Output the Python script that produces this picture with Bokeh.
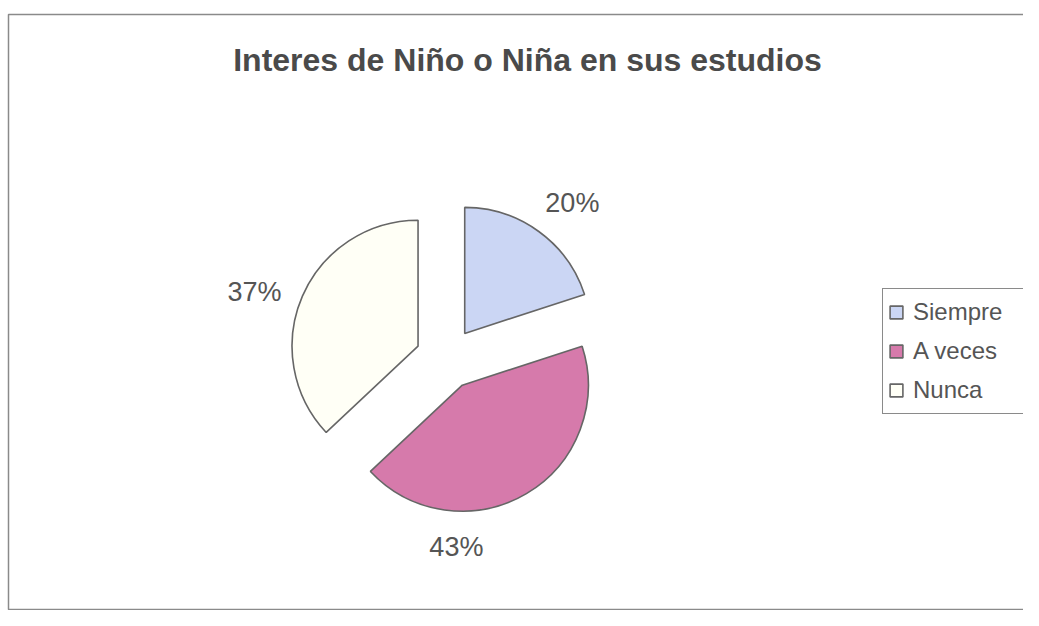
import math
from bokeh.plotting import figure
from bokeh.models import Range1d, ColumnDataSource, Label, BoxAnnotation, Legend, LegendItem
from bokeh.core.properties import value
from bokeh.embed import file_html
from bokeh.resources import INLINE

# ---- data ----
title_text = "Interes de Niño o Niña en sus estudios"
categories = ["Siempre", "A veces", "Nunca"]
values = [20, 43, 37]
colors = ["#cbd6f4", "#d67aab", "#fffff6"]

# ---- layout (pixel-like data units) ----
W, H = 1023, 610
cx, cy = 446, 252          # pie centre
radius = 126
explode = 31
label_angles_deg = [39, 177, 289]   # clockwise from 12 o'clock
label_dists = [200, 189, 203]

total = float(sum(values))
starts, ends, xs, ys, pct = [], [], [], [], []
acc = 0.0
for v in values:
    a0 = acc / total * 2 * math.pi
    acc += v
    a1 = acc / total * 2 * math.pi
    mid = (a0 + a1) / 2
    starts.append(math.pi / 2 - a0)
    ends.append(math.pi / 2 - a1)
    xs.append(cx + explode * math.sin(mid))
    ys.append(cy + explode * math.cos(mid))
    pct.append(f"{round(v / total * 100)}%")

src = ColumnDataSource(dict(x=xs, y=ys, start=starts, end=ends, color=colors, label=categories))

p = figure(width=W, height=H, output_backend="svg", toolbar_location=None,
           x_range=Range1d(0, W), y_range=Range1d(0, H), min_border=0)
p.axis.visible = False
p.grid.visible = False
p.outline_line_color = None
p.background_fill_color = "white"
p.border_fill_color = "white"

# chart border
p.add_layout(BoxAnnotation(left=8, right=W + 50, bottom=1, top=596,
                           fill_color=None, line_color="#8a8a8a", line_alpha=1.0, line_width=1.5))

r = p.wedge(x="x", y="y", radius=radius, start_angle="start", end_angle="end",
            direction="clock", fill_color="color", line_color="#666666", line_width=1.6,
            source=src)

# percentage labels
lx = [cx + d * math.sin(math.radians(a)) for a, d in zip(label_angles_deg, label_dists)]
ly = [cy + d * math.cos(math.radians(a)) for a, d in zip(label_angles_deg, label_dists)]
p.text(x=lx, y=ly, text=pct, text_align="center", text_baseline="middle",
       text_font=value("Liberation Sans"), text_font_size="27px", text_color="#555555")

# title
p.add_layout(Label(x=527, y=551, text=title_text, text_align="center", text_baseline="middle",
                   text_font="Liberation Sans", text_font_size="32px", text_font_style="bold",
                   text_color="#4a4a4a"))

legend = Legend(items=[LegendItem(label=c, renderers=[r], index=i) for i, c in enumerate(categories)],
                location=(882, 196), margin=0, padding=5, spacing=3,
                glyph_width=16, glyph_height=16, label_height=36, label_width=160,
                label_standoff=9,
                label_text_font="Liberation Sans", label_text_font_size="24px",
                label_text_color="#555555", border_line_color="#8a8a8a", border_line_alpha=1.0,
                border_line_width=1.5,
                background_fill_color="white", background_fill_alpha=1.0)
p.add_layout(legend)

open("out.html", "w").write(file_html(p, INLINE))
